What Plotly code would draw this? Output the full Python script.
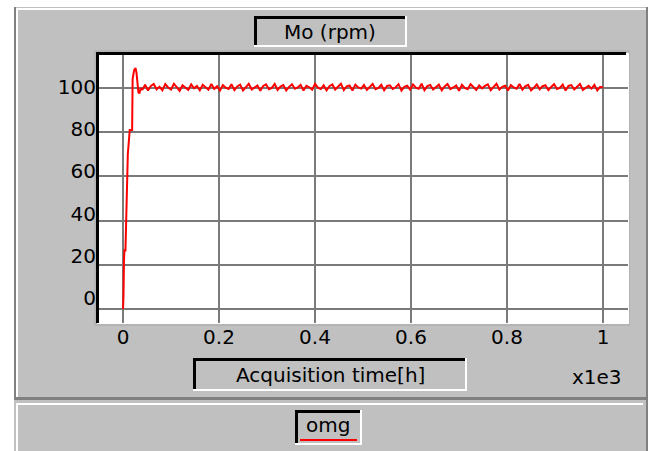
import plotly.graph_objects as go

# ---------------- data ----------------
x_ticks = [0, 0.2, 0.4, 0.6, 0.8, 1]
y_ticks = [0, 20, 40, 60, 80, 100]

rise_x = [0.0, 0.001, 0.002, 0.003, 0.005, 0.007, 0.010, 0.014, 0.019, 0.020,
          0.023, 0.026, 0.028, 0.032, 0.034, 0.037, 0.040]
rise_y = [0.0, 6.0, 22.0, 27.0, 26.0, 45.0, 70.0, 81.0, 81.0, 104.0,
          108.0, 109.0, 107.0, 98.0, 97.5, 100.0, 99.0]

steady_start = 0.040
steady_step = 0.006
steady_y = [
    99.0, 101.5, 98.8, 100.9, 101.8, 99.4, 100.6, 98.9, 101.7, 100.2,
    99.3, 101.9, 100.4, 98.7, 101.2, 100.0, 99.1, 101.6, 99.8, 100.9,
    98.9, 101.4, 100.3, 99.2, 101.8, 99.6, 100.8, 98.8, 101.3, 100.1,
    99.5, 101.7, 99.0, 100.7, 101.5, 98.9, 100.4, 101.9, 99.3, 100.2,
    101.1, 98.7, 100.9, 101.6, 99.4, 100.0, 101.8, 99.1, 100.6, 101.3,
    98.9, 100.5, 101.7, 99.6, 100.2, 101.4, 98.8, 101.0, 100.3, 99.2,
    101.8, 100.1, 99.5, 101.2, 98.9, 100.8, 101.6, 99.3, 100.4, 101.9,
    99.0, 100.7, 101.1, 98.8, 101.5, 100.2, 99.7, 101.3, 99.1, 100.6,
    101.8, 99.4, 100.0, 101.4, 98.9, 100.9, 101.2, 99.5, 100.3, 101.7,
    98.8, 100.5, 101.0, 99.2, 101.6, 100.1, 99.6, 101.9, 99.0, 100.8,
    101.3, 99.3, 100.4, 101.5, 98.9, 100.7, 101.8, 99.5, 100.2, 101.1,
    98.7, 101.4, 100.0, 99.4, 101.7, 100.6, 99.1, 101.2, 99.8, 100.9,
    101.6, 99.0, 100.3, 101.9, 99.3, 100.5, 101.0, 98.8, 101.3, 100.2,
    99.6, 101.8, 99.2, 100.7, 101.4, 98.9, 100.1, 101.6, 99.4, 100.8,
    101.2, 99.0, 100.4, 101.7, 99.5, 100.0, 101.5, 98.8, 100.9, 101.3,
    99.3, 100.6, 101.8, 99.1, 100.2, 101.0, 99.7, 101.4, 98.9, 100.5,
    100.2,
]

title_text = "Mo (rpm)"
x_title_text = "Acquisition time[h]"
x_scale_text = "x1e3"
legend_text = "omg"

# ---------------- layout helpers ----------------
W, H = 656, 451
GRAY = "#c0c0c0"
DARK = "#808080"
FONT = "DejaVu Sans"


def px(x):
    return x / W


def py(y):
    return 1 - y / H


shapes = []


def rect(x0, y0, x1, y1, color, layer="below"):
    shapes.append(dict(type="rect", xref="paper", yref="paper",
                       x0=px(x0), x1=px(x1), y0=py(y1), y1=py(y0),
                       fillcolor=color, line=dict(width=0), layer=layer))


# panels
rect(14, 7, 648, 451, GRAY)
rect(14, 7, 16, 399, DARK)          # left dark edge upper panel
rect(16, 9, 18, 397, "white")       # left white edge
rect(16, 8, 646, 10, "white")       # top white edge
rect(646, 7, 648, 451, DARK)        # right dark edge
rect(14, 397, 646, 400, DARK)       # bottom of upper panel
rect(17, 403, 643, 405, "white")    # top of lower panel
rect(16, 403, 18, 451, "white")     # left of lower panel

# plot area
rect(94, 50, 630, 326, "#b4b4b4")
rect(97, 53, 629, 324, "white")
rect(96, 52, 99, 323, "black", layer="above")
rect(96, 52, 626, 55, "black", layer="above")

# title box
rect(254, 16, 407, 47, "white")
rect(254, 16, 405, 45, GRAY)
rect(254, 16, 405, 19, "black")
rect(254, 16, 257, 45, "black")

# x title box
rect(193, 358, 467, 391, "white")
rect(193, 358, 465, 389, GRAY)
rect(193, 358, 465, 361, "black")
rect(193, 358, 196, 389, "black")

# legend box
rect(295, 410, 362, 445, "white")
rect(295, 410, 360, 443, GRAY)
rect(295, 410, 360, 413, "black")
rect(295, 410, 298, 443, "black")
rect(300, 439, 357, 441, "#ff0000")

annotations = [
    dict(text=title_text, x=px(330), y=py(32)),
    dict(text=x_title_text, x=px(331), y=py(375)),
    dict(text=x_scale_text, x=px(597), y=py(377)),
    dict(text=legend_text, x=px(328), y=py(425)),
]
for a in annotations:
    a.update(xref="paper", yref="paper", showarrow=False,
             xanchor="center", yanchor="middle",
             font=dict(family=FONT, size=20, color="black"))

# ---------------- figure ----------------
fig = go.Figure()
fig.add_trace(go.Scatter(x=rise_x, y=rise_y, mode="lines",
                         line=dict(color="#ff0000", width=2),
                         showlegend=False, hoverinfo="skip"))
fig.add_trace(go.Scatter(x0=steady_start, dx=steady_step, y=steady_y,
                         mode="lines", line=dict(color="#ff0000", width=2),
                         showlegend=False, hoverinfo="skip"))
# invisible carrier for the label axis
fig.add_trace(go.Scatter(x=[0] * len(y_ticks), y=y_ticks, yaxis="y2",
                         mode="markers", marker=dict(opacity=0),
                         showlegend=False, hoverinfo="skip"))

x_left, x_right = 97, 628
y_top, y_bot = 53, 323

fig.update_layout(
    width=W, height=H,
    margin=dict(l=0, r=0, t=0, b=0),
    paper_bgcolor="white",
    plot_bgcolor="rgba(0,0,0,0)",
    showlegend=False,
    shapes=shapes,
    annotations=annotations,
    xaxis=dict(domain=[px(x_left), px(x_right)],
               range=[-0.0542, 1.052],
               tickvals=x_ticks,
               ticktext=[f"{v:g}" for v in x_ticks],
               showgrid=True, gridcolor="#7a7a7a", gridwidth=2,
               zeroline=False, showline=False, ticks="",
               tickfont=dict(family=FONT, size=20, color="black"),
               automargin=False, fixedrange=True),
    yaxis=dict(domain=[py(y_bot), py(y_top)],
               range=[-6.3, 115.8],
               tickvals=y_ticks, showticklabels=False,
               showgrid=True, gridcolor="#7a7a7a", gridwidth=2,
               zeroline=False, showline=False, ticks="",
               automargin=False, fixedrange=True),
    yaxis2=dict(domain=[py(y_bot), py(y_top)], overlaying="y", side="left",
                anchor="x",
                range=[-11.8, 116.1],
                tickvals=y_ticks,
                showgrid=False, zeroline=False, showline=False, ticks="",
                tickfont=dict(family=FONT, size=20, color="black"),
                automargin=False, fixedrange=True),
)

fig.write_html("out.html")
